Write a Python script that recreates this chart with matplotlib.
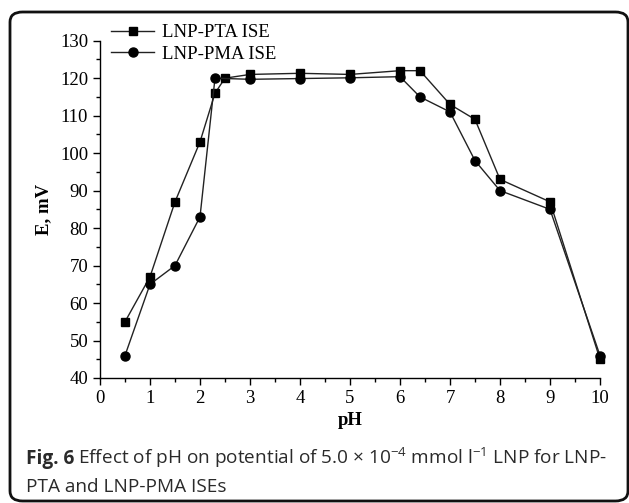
import matplotlib
matplotlib.use('Agg')
import matplotlib.pyplot as plt
from matplotlib.patches import FancyBboxPatch
from matplotlib.ticker import MultipleLocator

# Datos (pH vs potencial, mV)
ph_pta = [0.5, 1, 1.5, 2, 2.3, 2.5, 3, 4, 5, 6, 6.4, 7, 7.5, 8, 9, 10]
e_pta = [55, 67, 87, 103, 116, 120, 121, 121.3, 121, 122, 122, 113, 109, 93, 87, 45]

ph_pma = [0.5, 1, 1.5, 2, 2.3, 3, 4, 5, 6, 6.4, 7, 7.5, 8, 9, 10]
e_pma = [46, 65, 70, 83, 120, 119.7, 119.9, 120.1, 120.4, 115, 111, 98, 90, 85, 46]

etiquetas = ['LNP-PTA ISE', 'LNP-PMA ISE']

plt.rcParams['font.family'] = 'Liberation Serif'
plt.rcParams['mathtext.fontset'] = 'custom'
plt.rcParams['mathtext.rm'] = 'Open Sans'
plt.rcParams['mathtext.it'] = 'Open Sans:italic'

fig = plt.figure(figsize=(6.29, 5.03), dpi=100)
ax = fig.add_axes([100/629, 1 - 378/503, 500/629, (378 - 40.7)/503])

ax.plot(ph_pta, e_pta, color='#222222', lw=1.0, marker='s', ms=5.8,
        mfc='black', mec='black', label=etiquetas[0])
ax.plot(ph_pma, e_pma, color='#222222', lw=1.0, marker='o', ms=6.5,
        mfc='black', mec='black', label=etiquetas[1])

ax.set_xlim(0, 10)
ax.set_ylim(40, 130)
ax.xaxis.set_major_locator(MultipleLocator(1))
ax.xaxis.set_minor_locator(MultipleLocator(0.5))
ax.yaxis.set_major_locator(MultipleLocator(10))
ax.yaxis.set_minor_locator(MultipleLocator(5))
ax.spines['top'].set_visible(False)
ax.spines['right'].set_visible(False)
for s in ['left', 'bottom']:
    ax.spines[s].set_linewidth(1.0)
ax.tick_params(which='major', direction='out', length=5, width=1, labelsize=13.5)
ax.tick_params(which='minor', direction='out', length=3, width=1)
for l in ax.lines:
    l.set_clip_on(False)

ax.set_xlabel('pH', fontsize=13.5, fontweight='bold', labelpad=4)
ax.set_ylabel('E, mV', fontsize=13.5, fontweight='bold', labelpad=6)

ax.legend(loc='upper left', bbox_to_anchor=(111/629, 1 - 24/503),
          bbox_transform=fig.transFigure, frameon=False, fontsize=13.5,
          handlelength=2.3, handletextpad=0.4, labelspacing=0.25,
          borderaxespad=0, borderpad=0)

# Pie de figura
color_pie = '#2a2a2a'
t1 = fig.text(26/629, 1 - 464/503, 'Fig. 6', family='Open Sans', fontweight='bold',
              fontsize=13.7, color=color_pie, va='baseline')
fig.canvas.draw()
bb = t1.get_window_extent()
x_resto = (bb.x1 + 4) / fig.bbox.width
fig.text(x_resto, 1 - 464/503,
         r'Effect of pH on potential of 5.0 $\times$ 10$^{\mathrm{-4}}$ mmol l$^{\mathrm{-1}}$ LNP for LNP-',
         family='Open Sans', fontsize=13.7, color=color_pie, va='baseline')
fig.text(26/629, 1 - 491.5/503, 'PTA and LNP-PMA ISEs', family='Open Sans',
         fontsize=13.7, color=color_pie, va='baseline')

# Marco redondeado
marco = FancyBboxPatch((10/629, 2/503), 618/629, 489/503,
                       boxstyle='round,pad=0,rounding_size=0.02',
                       transform=fig.transFigure, fill=False,
                       edgecolor='#111111', linewidth=2)
fig.patches.append(marco)

fig.savefig('out.png', dpi=100)
